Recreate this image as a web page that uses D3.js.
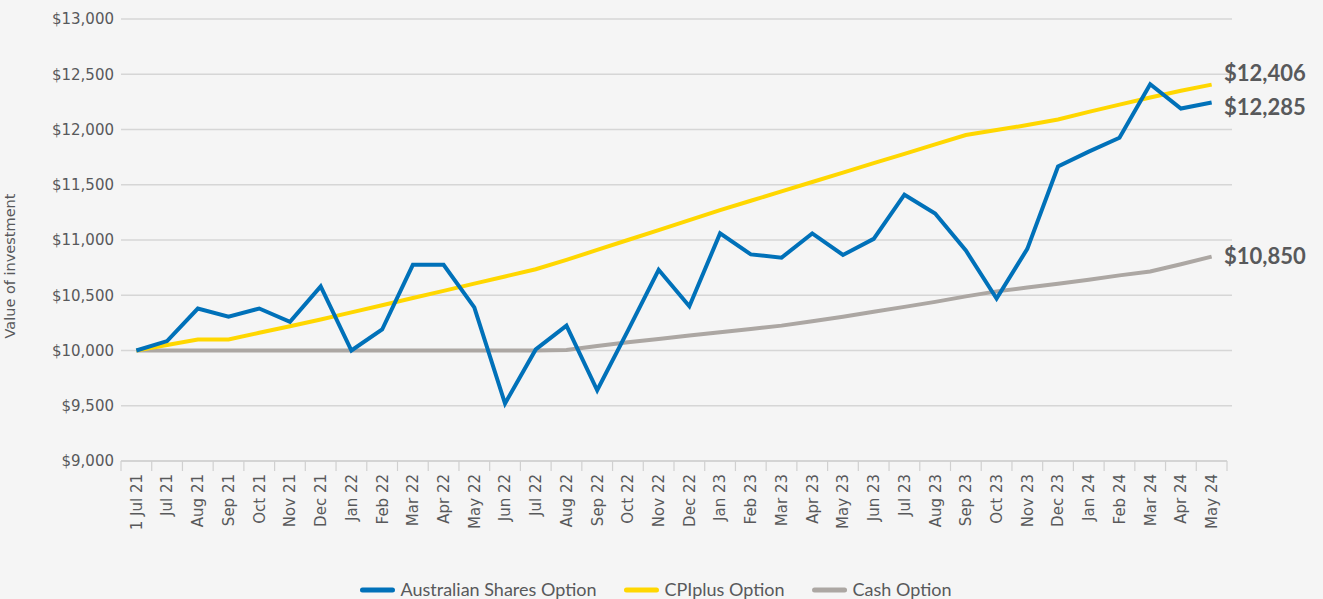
<!DOCTYPE html>
<html>
<head>
<meta charset="utf-8">
<script src="https://cdn.jsdelivr.net/npm/d3@7"></script>
<style>
  html, body { margin: 0; padding: 0; background: #f5f5f5; }
  svg { display: block; font-family: "DejaVu Sans", sans-serif; }
</style>
</head>
<body>
<svg id="chart" width="1323" height="599"></svg>
<script>
// categories (x axis)
const months = [
  "1 Jul 21", "Jul 21", "Aug 21", "Sep 21", "Oct 21", "Nov 21", "Dec 21",
  "Jan 22", "Feb 22", "Mar 22", "Apr 22", "May 22", "Jun 22", "Jul 22",
  "Aug 22", "Sep 22", "Oct 22", "Nov 22", "Dec 22",
  "Jan 23", "Feb 23", "Mar 23", "Apr 23", "May 23", "Jun 23", "Jul 23",
  "Aug 23", "Sep 23", "Oct 23", "Nov 23", "Dec 23",
  "Jan 24", "Feb 24", "Mar 24", "Apr 24", "May 24"
];

const sharesValues = [
  10000, 10085, 10380, 10305, 10380, 10260, 10580,
  10000, 10190, 10775, 10775, 10390, 9520, 10010,
  10225, 9640, 10180, 10730, 10400,
  11060, 10870, 10840, 11060, 10865, 11010, 11410,
  11240, 10905, 10470, 10920, 11665,
  11800, 11925, 12410, 12190, 12245
];

const cpiValues = [
  10000, 10050, 10100, 10100, 10160, 10220, 10280,
  10345, 10410, 10475, 10540, 10605, 10670, 10735,
  10820, 10910, 11000, 11090, 11180,
  11270, 11355, 11440, 11525, 11610, 11695, 11780,
  11865, 11950, 11995, 12040, 12090,
  12160, 12225, 12290, 12350, 12406
];

const cashValues = [
  10000, 10000, 10000, 10000, 10000, 10000, 10000,
  10000, 10000, 10000, 10000, 10000, 10000, 10000,
  10005, 10040, 10075, 10105, 10135,
  10165, 10195, 10225, 10265, 10305, 10350, 10395,
  10440, 10490, 10535, 10570, 10605,
  10640, 10680, 10715, 10780, 10850
];

const yTicks = [9000, 9500, 10000, 10500, 11000, 11500, 12000, 12500, 13000];

const series = [
  { name: "Cash Option", values: cashValues, color: "#aca7a3", end: "$10,850", dy: 0 },
  { name: "CPIplus Option", values: cpiValues, color: "#ffd700", end: "$12,406", dy: -12 },
  { name: "Australian Shares Option", values: sharesValues, color: "#0071b9", end: "$12,285", dy: 5 }
];

const legendOrder = ["Australian Shares Option", "CPIplus Option", "Cash Option"];

const svg = d3.select("#chart");
const plotLeft = 121, plotRight = 1227, plotTop = 19, plotBottom = 461;

const x = d3.scaleBand().domain(months).range([plotLeft, plotRight]);
const y = d3.scaleLinear().domain([9000, 13000]).range([plotBottom, plotTop]);

// grid
svg.append("g")
  .selectAll("line")
  .data(yTicks.filter(d => d > 9000))
  .join("line")
  .attr("x1", plotLeft).attr("x2", 1232)
  .attr("y1", d => y(d)).attr("y2", d => y(d))
  .attr("stroke", "#d6d6d6").attr("stroke-width", 1.5);

// y axis labels
svg.append("g")
  .selectAll("text")
  .data(yTicks)
  .join("text")
  .attr("x", 114)
  .attr("y", d => y(d))
  .attr("dy", "0.36em")
  .attr("text-anchor", "end")
  .attr("fill", "#58595b")
  .attr("font-size", 15)
  .text(d => "$" + d3.format(",")(d));

// x axis
const xAxis = svg.append("g")
  .attr("transform", `translate(0,${plotBottom})`);
xAxis.append("line")
  .attr("x1", plotLeft).attr("x2", plotRight)
  .attr("stroke", "#c8c8c8").attr("stroke-width", 1.5);
xAxis.selectAll("line.tick")
  .data(months.concat(["_end"]))
  .join("line")
  .attr("class", "tick")
  .attr("x1", (d, i) => plotLeft + i * x.step())
  .attr("x2", (d, i) => plotLeft + i * x.step())
  .attr("y1", 0).attr("y2", 10)
  .attr("stroke", "#d0d0d0").attr("stroke-width", 1.2);
xAxis.selectAll("text")
  .data(months)
  .join("text")
  .attr("transform", d => `translate(${x(d) + x.bandwidth() / 2},13) rotate(-90)`)
  .attr("dy", "0.36em")
  .attr("text-anchor", "end")
  .attr("fill", "#58595b")
  .attr("font-size", 15)
  .text(d => d);

// y axis title
svg.append("text")
  .attr("transform", "translate(15,266) rotate(-90)")
  .attr("text-anchor", "middle")
  .attr("fill", "#58595b")
  .attr("font-size", 14.5)
  .text("Value of investment");

// lines
const line = d3.line()
  .x((d, i) => x(months[i]) + x.bandwidth() / 2)
  .y(d => y(d));

svg.append("g")
  .selectAll("path")
  .data(series)
  .join("path")
  .attr("d", d => line(d.values))
  .attr("fill", "none")
  .attr("stroke", d => d.color)
  .attr("stroke-width", 4)
  .attr("stroke-linejoin", "miter");

// end labels
svg.append("g")
  .selectAll("text")
  .data(series)
  .join("text")
  .attr("x", 1224)
  .attr("y", d => y(d.values[d.values.length - 1]) + d.dy)
  .attr("dy", "0.36em")
  .attr("fill", "#58595b")
  .attr("font-size", 22)
  .attr("font-weight", 700)
  .attr("font-family", "Lato, sans-serif")
  .text(d => d.end);

// legend, laid out item after item and centred under the chart
const legend = svg.append("g").attr("transform", "translate(0,590)");
const items = legend.selectAll("g")
  .data(legendOrder.map(n => series.find(s => s.name === n)))
  .join("g");
items.append("line")
  .attr("x1", 0).attr("x2", 30)
  .attr("stroke", d => d.color)
  .attr("stroke-width", 5)
  .attr("stroke-linecap", "round");
items.append("text")
  .attr("x", 38)
  .attr("dy", "0.36em")
  .attr("fill", "#58595b")
  .attr("font-size", 18)
  .attr("font-family", "Lato, sans-serif")
  .text(d => d.name);
let cursor = 0;
const offsets = [];
items.each(function () {
  offsets.push(cursor);
  cursor += this.getBBox().width + 30;
});
const total = cursor - 30;
const start = 657 - total / 2;
items.attr("transform", (d, i) => `translate(${start + offsets[i]},0)`);
</script>
</body>
</html>
